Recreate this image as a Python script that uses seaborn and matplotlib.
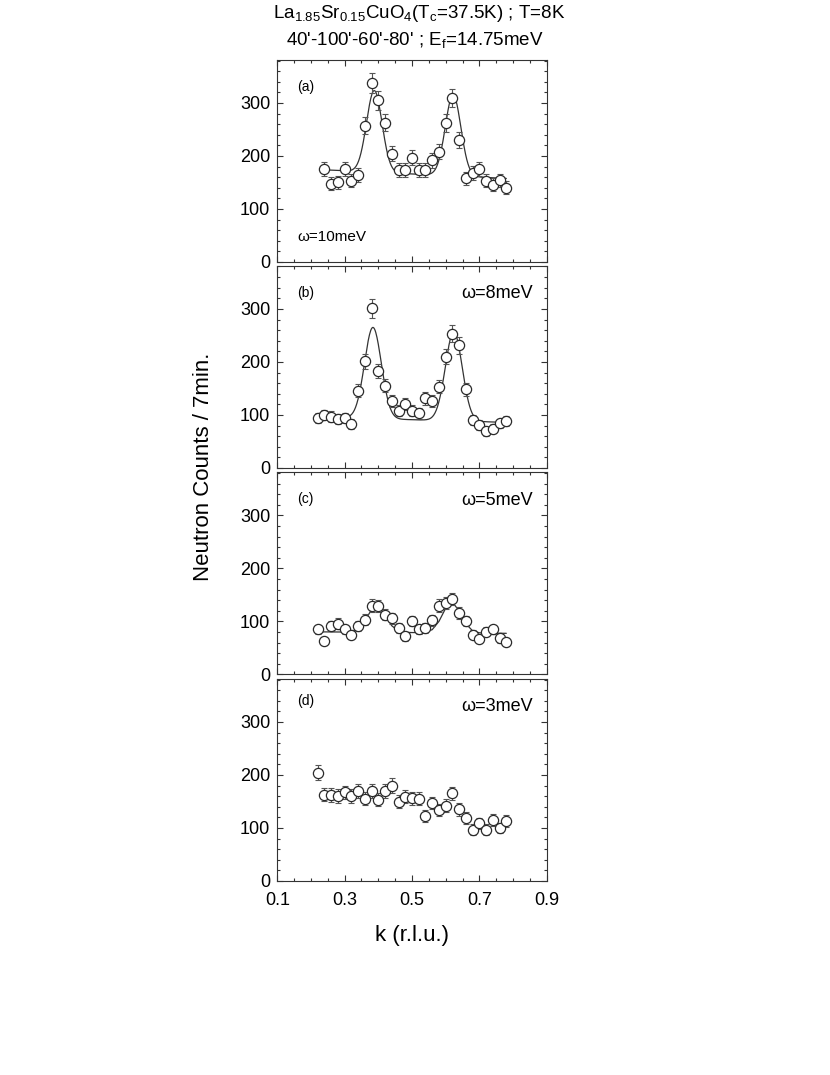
import numpy as np
import pandas as pd
import seaborn as sns
import matplotlib.pyplot as plt
from matplotlib.ticker import FixedLocator, MultipleLocator

# k positions (r.l.u.)
k_all = [0.22, 0.24, 0.26, 0.28, 0.30, 0.32, 0.34, 0.36, 0.38, 0.40,
         0.42, 0.44, 0.46, 0.48, 0.50, 0.52, 0.54, 0.56, 0.58, 0.60,
         0.62, 0.64, 0.66, 0.68, 0.70, 0.72, 0.74, 0.76, 0.78]
k_a = k_all[1:]

# neutron counts / 7 min
counts_a = [175, 148, 150, 175, 153, 164, 257, 338, 305, 263, 204, 174, 174, 197,
            174, 173, 192, 208, 262, 309, 230, 158, 168, 176, 153, 146, 154, 140]
counts_b = [94, 100, 97, 92, 94, 83, 146, 201, 301, 183, 155, 126, 108, 121, 108,
            103, 131, 126, 153, 210, 253, 231, 148, 91, 81, 69, 74, 84, 89]
counts_c = [85, 63, 91, 96, 85, 75, 91, 103, 130, 129, 113, 106, 88, 72, 101,
            85, 88, 102, 130, 135, 142, 116, 101, 75, 67, 81, 85, 68, 61]
counts_d = [204, 163, 162, 160, 167, 160, 169, 155, 170, 153, 169, 180, 149, 159,
            156, 155, 123, 147, 134, 142, 165, 135, 119, 97, 109, 97, 115, 100, 113]

# double-gaussian fit parameters: background, slope, centres, amplitudes, width
fit_a = dict(bg=166, slope=-30, centers=[0.388, 0.622], amps=[154, 153], sigma=0.023)
fit_b = dict(bg=91, slope=-18, centers=[0.384, 0.624], amps=[172, 168], sigma=0.025)
fit_c = dict(bg=79, slope=-5, centers=[0.395, 0.618], amps=[50, 58], sigma=0.027)

panel_tags = ['(a)', '(b)', '(c)', '(d)']
energies = ['\u03c9=10meV', '\u03c9=8meV', '\u03c9=5meV', '\u03c9=3meV']


def fit_curve(k, p):
    k = np.asarray(k)
    y = p['bg'] + p['slope'] * (k - 0.5)
    for c, a in zip(p['centers'], p['amps']):
        y = y + a * np.exp(-(k - c) ** 2 / (2 * p['sigma'] ** 2))
    return y


sns.set_theme(style='ticks')
plt.rcParams['font.family'] = ['Liberation Sans', 'DejaVu Sans']
plt.rcParams['mathtext.default'] = 'regular'
plt.rcParams['text.color'] = 'black'
plt.rcParams['xtick.labelcolor'] = 'black'
plt.rcParams['ytick.labelcolor'] = 'black'

fig = plt.figure(figsize=(8.3, 10.75), dpi=100)

left, width, height = 0.3341, 0.3246, 0.1879
bottoms = [0.7563, 0.5647, 0.3726, 0.1805]

panels = [
    (k_a, counts_a, fit_a, np.linspace(0.24, 0.78, 300)),
    (k_all, counts_b, fit_b, np.linspace(0.22, 0.78, 300)),
    (k_all, counts_c, fit_c, np.array(k_all)),
    (k_all, counts_d, None, None),
]

edge = '#2a2a2a'
for i, (k, cnt, fit, kfit) in enumerate(panels):
    ax = fig.add_axes([left, bottoms[i], width, height])
    df = pd.DataFrame({'k': k, 'counts': cnt})
    df['err'] = np.sqrt(df['counts'])

    if fit is not None:
        sns.lineplot(x=kfit, y=fit_curve(kfit, fit), ax=ax, color='#333333',
                     linewidth=0.9, zorder=2)

    ax.errorbar(df['k'], df['counts'], yerr=df['err'], fmt='none',
                ecolor='#555555', elinewidth=0.8, capsize=2.2, capthick=0.8, zorder=3)
    sns.scatterplot(data=df, x='k', y='counts', ax=ax, marker='o', s=54,
                    color='white', edgecolor=edge, linewidth=0.9, zorder=4)

    ax.set_xlim(0.1, 0.9)
    ax.set_ylim(0, 381)
    ax.xaxis.set_major_locator(FixedLocator([0.1, 0.3, 0.5, 0.7, 0.9]))
    ax.xaxis.set_minor_locator(MultipleLocator(0.05))
    ax.yaxis.set_major_locator(FixedLocator([0, 100, 200, 300]))
    ax.yaxis.set_minor_locator(MultipleLocator(20))
    ax.tick_params(which='both', direction='in', top=True, right=True,
                   color='#333333', width=0.8)
    ax.tick_params(which='major', length=4.5, labelsize=13)
    ax.tick_params(axis='y', which='major', pad=5)
    ax.tick_params(axis='x', which='major', pad=8)
    ax.tick_params(which='minor', length=2.5)
    ax.set_yticklabels(['0', '100', '200', '300'])
    if i < 3:
        ax.tick_params(axis='x', labelbottom=False)
    else:
        ax.set_xticklabels(['0.1', '0.3', '0.5', '0.7', '0.9'])
    ax.set_xlabel('')
    ax.set_ylabel('')
    for s in ax.spines.values():
        s.set_linewidth(0.8)
        s.set_color('#333333')

    tag_y = 0.89 if i == 3 else 0.868
    ax.text(0.074, tag_y, panel_tags[i], transform=ax.transAxes,
            fontsize=10, ha='left', va='center')
    if i == 0:
        ax.text(0.074, 0.124, energies[i], transform=ax.transAxes,
                fontsize=11, ha='left', va='center')
    else:
        ax.text(0.947, 0.862, energies[i], transform=ax.transAxes,
                fontsize=13, ha='right', va='center')

fig.text(0.505, 0.9833, r'La$_{1.85}$Sr$_{0.15}$CuO$_4$(T$_c$=37.5K) ; T=8K',
         ha='center', va='baseline', fontsize=13.5)
fig.text(0.500, 0.958, r"40'-100'-60'-80' ; E$_f$=14.75meV",
         ha='center', va='baseline', fontsize=13.5)
fig.text(0.2446, 0.5656, 'Neutron Counts / 7min.', rotation=90,
         ha='center', va='center', fontsize=16)
fig.text(0.4964, 0.130, 'k (r.l.u.)', ha='center', va='center', fontsize=16)

fig.savefig('out.png', dpi=100)
